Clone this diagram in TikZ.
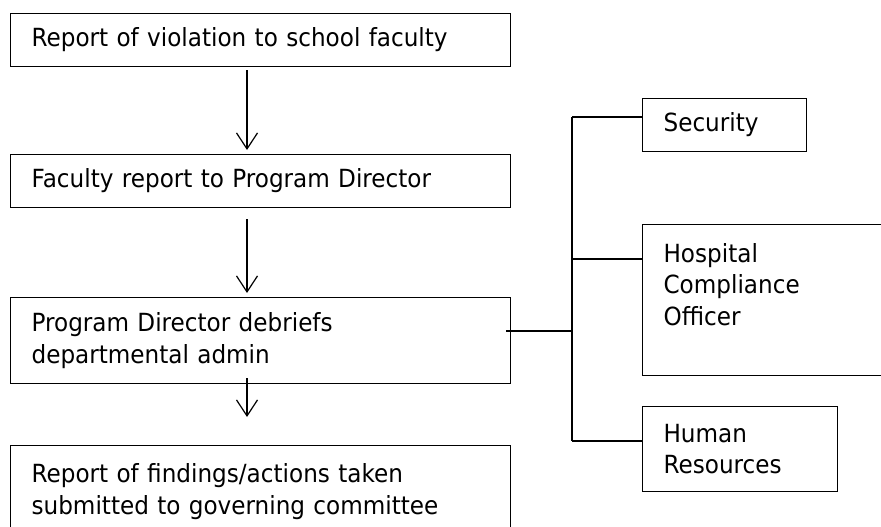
\documentclass[tikz,border=0pt]{standalone}
\usepackage{fontspec}
\setmainfont{DejaVu Sans}[FakeStretch=0.925]
\usepackage{tikz}
\usetikzlibrary{arrows.meta,positioning,calc}

\tikzset{
  box/.style={draw, line width=1.2pt, anchor=north west, align=left,
    inner xsep=21pt, inner ysep=0pt},
  arr/.style={line width=1.2pt, -{Straight Barb[length=16pt,width=21pt,line width=1.2pt]}},
  link/.style={line width=1.2pt}
}

\begin{document}
\begin{tikzpicture}[x=1pt, y=-1pt, font=\fontsize{25}{31.5}\selectfont]
  % Page frame
  \clip (0,0) rectangle (881,527);
  \fill[white] (0,0) rectangle (881,527);

  % Main column
  \node[box, text width=458pt, minimum height=53pt] (report) at (10,13)
    {Report of violation to school faculty};
  \node[box, text width=458pt, minimum height=53pt] (faculty) at (10,154)
    {Faculty report to Program Director};
  \node[box, text width=458pt, minimum height=86pt] (debrief) at (10,297)
    {Program Director debriefs\\departmental admin};
  \node[box, text width=458pt, minimum height=92pt] (findings) at (10,445)
    {Report of findings/actions taken\\submitted to governing committee};

  % Arrows down the column
  \draw[arr] ($(report.south west)+(237,3)$) -- ($(faculty.north west)+(237,-4)$);
  \draw[arr] ($(faculty.south west)+(237,11)$) -- ($(debrief.north west)+(237,-4)$);
  \draw[arr] ($(debrief.south west)+(237,-6)$) -- ($(findings.north west)+(237,-28)$);

  % Offices on the right
  \node[box, text width=122pt, minimum height=53pt] (security) at (642,98)
    {Security};
  \node[box, text width=218pt, minimum height=151pt] (hospital) at (642,224)
    {Hospital\\Compliance\\Officer\\ \mbox{}};
  \node[box, text width=153pt, minimum height=85pt] (hr) at (642,406)
    {Human\\Resources};

  % Bus to the offices
  \coordinate (bustop) at (572,117);
  \coordinate (busmid) at (572,331);
  \coordinate (hosp) at (572,259);
  \coordinate (busbot) at (572,441);
  \draw[link] (bustop) -- (busbot);
  \draw[link] ($(debrief.north east)+(-5,34)$) -- (busmid);
  \draw[link] (bustop) -- (bustop -| security.west);
  \draw[link] (hosp) -- (hosp -| hospital.west);
  \draw[link] (busbot) -- (busbot -| hr.west);
\end{tikzpicture}
\end{document}
